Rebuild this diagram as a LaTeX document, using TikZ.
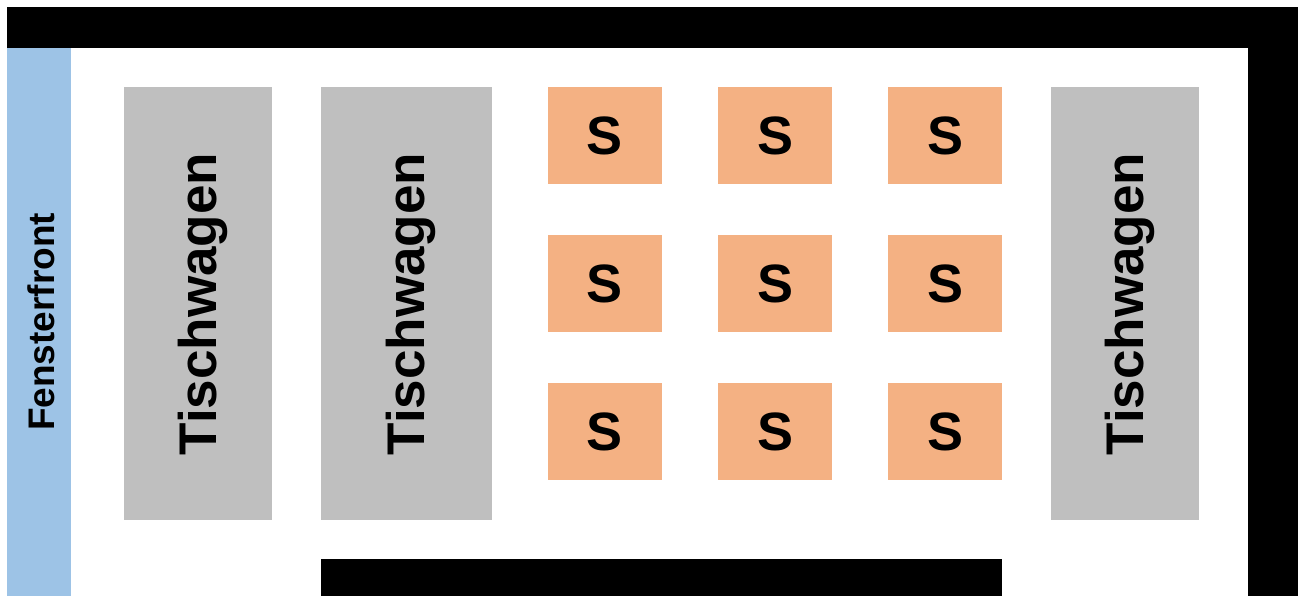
\documentclass[tikz,border=0pt]{standalone}
\usepackage{fontspec}
\setmainfont{Liberation Sans}
\definecolor{winblue}{HTML}{9DC3E6}
\definecolor{cartgray}{HTML}{BFBFBF}
\definecolor{seatorange}{HTML}{F4B183}
\begin{document}
\begin{tikzpicture}[x=1pt,y=-1pt,
  wall/.style={fill=black,draw=none},
  cart/.style={fill=cartgray,draw=none},
  seat/.style={fill=seatorange,draw=none},
  lbl/.style={font=\bfseries\fontsize{53}{53}\selectfont,rotate=90,inner sep=0pt},
  slbl/.style={font=\bfseries\fontsize{54}{54}\selectfont,inner sep=0pt},
  wlbl/.style={font=\bfseries\fontsize{37}{37}\selectfont,rotate=90,inner sep=0pt}]
\useasboundingbox (0,0) rectangle (1306,596);
% walls
\fill[wall] (7,7) rectangle (1298,48);
\fill[wall] (1248,7) rectangle (1298,596);
\fill[wall] (321,559) rectangle (1002,596);
% window front
\fill[winblue] (7,48) rectangle (71,596);
\node[wlbl] (fenster) at (41,322) {Fensterfront};
% carts
\fill[cart] (124,87) rectangle (272,520);
\node[lbl] (t1) at (203,304) {Tischwagen};
\fill[cart] (321,87) rectangle (492,520);
\node[lbl] (t2) at (411,304) {Tischwagen};
\fill[cart] (1051,87) rectangle (1199,520);
\node[lbl] (t3) at (1130,304) {Tischwagen};
% seats
\foreach \cx [count=\i] in {548,718,888}{
  \foreach \cy [count=\j] in {87,235,383}{
    \fill[seat] (\cx,\cy) rectangle ++(114,97);
    \node[slbl] (s\i\j) at (\cx+57,\cy+48.5) {S};
  }
}
\end{tikzpicture}
\end{document}
